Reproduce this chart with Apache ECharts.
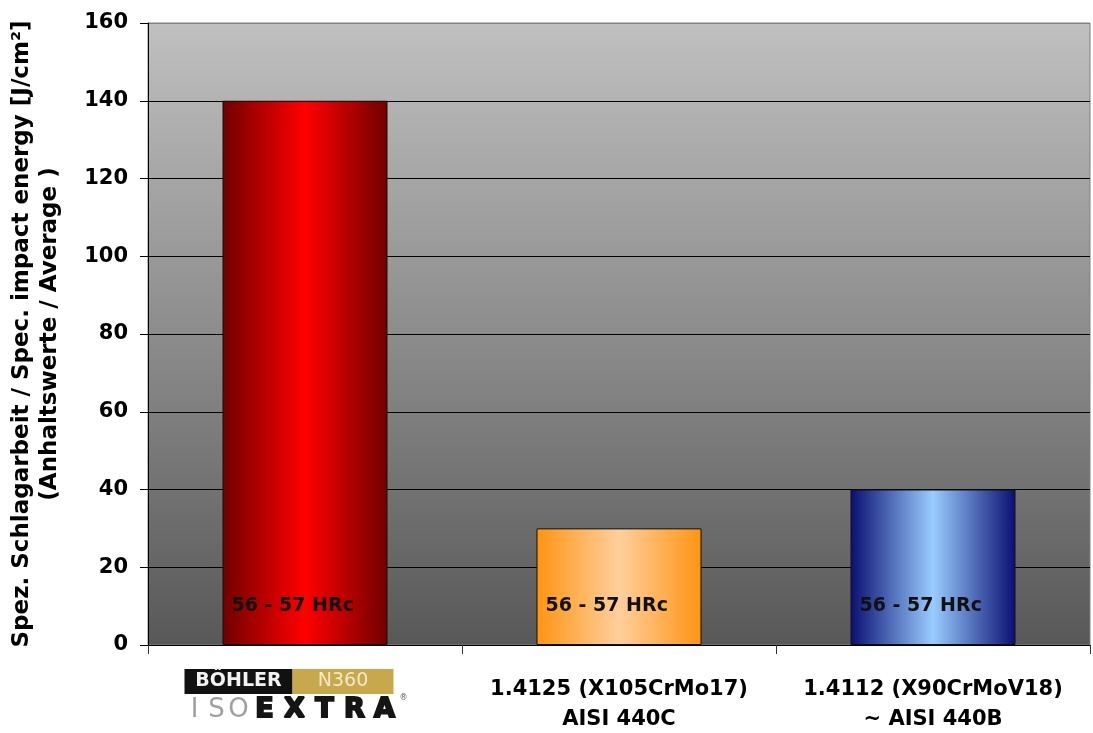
<!DOCTYPE html>
<html>
<head>
<meta charset="utf-8">
<script src="https://cdn.jsdelivr.net/npm/echarts@6/dist/echarts.min.js"></script>
<style>
  html, body { margin: 0; padding: 0; background: #fff; }
  #main { width: 1093px; height: 733px; }
</style>
</head>
<body>
<div id="main"></div>
<script>
// data
var categories = ['boehler', '1.4125 (X105CrMo17)\nAISI 440C', '1.4112 (X90CrMoV18)\n~ AISI 440B'];
var values = [140, 30, 40];
var hardness = ['56 - 57 HRc', '56 - 57 HRc', '56 - 57 HRc'];
var yTicks = [0, 20, 40, 60, 80, 100, 120, 140, 160];

var font = "'DejaVu Sans', sans-serif";

function hGrad(edge, mid) {
    return new echarts.graphic.LinearGradient(0, 0, 1, 0, [
        {offset: 0, color: edge},
        {offset: 0.5, color: mid},
        {offset: 1, color: edge}
    ]);
}

var barColors = [
    hGrad('#700000', '#ff0000'),
    hGrad('#ff9412', '#ffcf9c'),
    hGrad('#0a0f72', '#99ccff')
];

var chart = echarts.init(document.getElementById('main'));

var option = {
    animation: false,
    grid: {
        left: 148, right: 3, top: 23, height: 622,
        show: true,
        borderColor: '#808080',
        borderWidth: 1,
        backgroundColor: new echarts.graphic.LinearGradient(0, 0, 0, 1, [
            {offset: 0, color: '#c0c0c0'},
            {offset: 1, color: '#585858'}
        ])
    },
    xAxis: {
        type: 'category',
        data: categories,
        axisLine: {lineStyle: {color: '#000', width: 1}},
        axisTick: {show: true, length: 9, lineStyle: {color: '#333'}},
        axisLabel: {
            margin: 24,
            interval: 0,
            color: '#000',
            formatter: function (v, i) {
                if (i === 0) {
                    // logo drawn as text
                    return '{b|BÖHLER}{n|N360}{s1|}\n' +
                        '{i|I}{i|S}{i|O}{e|E}{e|X}{e|T}{e|R}{e|A}{r|®}{s2|}';
                }
                return '{p| }\n' + v.split('\n').map(function (s) { return '{t|' + s + '}'; }).join('\n');
            },
            rich: {
                p: {fontSize: 1, lineHeight: 6},
                t: {fontFamily: font, fontWeight: 'bold', fontSize: 21, lineHeight: 30, color: '#000'},
                b: {fontFamily: font, fontWeight: 'bold', fontSize: 19, color: '#f2f2f2',
                    backgroundColor: '#111', width: 108, height: 25, lineHeight: 25, align: 'center'},
                n: {fontFamily: font, fontSize: 19, color: '#f3e9c6',
                    backgroundColor: '#c8a84c', width: 101, height: 25, lineHeight: 25, align: 'center'},
                s1: {width: 32, height: 25},
                s2: {width: 19},
                i: {fontFamily: font, fontSize: 26, color: '#a0a0a0', width: 22, align: 'center', lineHeight: 32},
                e: {fontFamily: font, fontWeight: 'bold', fontSize: 27, color: '#151515', width: 30, align: 'center',
                    lineHeight: 32, textBorderColor: '#151515', textBorderWidth: 2},
                r: {fontFamily: font, fontSize: 8, color: '#555', verticalAlign: 'top', lineHeight: 32}
            }
        }
    },
    yAxis: {
        type: 'value',
        min: 0,
        max: 160,
        interval: 20,
        name: 'Spez. Schlagarbeit / Spec. impact energy [J/cm²]\n(Anhaltswerte / Average )',
        nameLocation: 'middle',
        nameRotate: 90,
        nameGap: 84,
        nameTextStyle: {
            fontFamily: font, fontWeight: 'bold', fontSize: 23, lineHeight: 28, color: '#000', align: 'center'
        },
        axisLine: {show: true, lineStyle: {color: '#000', width: 1}},
        axisTick: {show: true, length: 8, lineStyle: {color: '#000'}},
        axisLabel: {
            margin: 20,
            color: '#000',
            fontFamily: font,
            fontWeight: 'bold',
            fontSize: 21,
            formatter: function (v) { return yTicks.indexOf(v) >= 0 ? String(v) : ''; }
        },
        splitLine: {
            show: true,
            lineStyle: {
                color: ['#000', '#000', '#000', '#000', '#000', '#000', '#000', '#000', '#808080'],
                width: 1
            }
        }
    },
    series: [{
        type: 'bar',
        barWidth: 165,
        data: values.map(function (v, i) {
            return {
                value: v,
                itemStyle: {color: barColors[i], borderColor: '#111', borderWidth: 1},
                label: {formatter: hardness[i]}
            };
        }),
        label: {
            show: true,
            position: 'insideBottomLeft',
            distance: 5,
            offset: [4, -24],
            fontFamily: font,
            fontWeight: 'bold',
            fontSize: 19,
            color: '#111'
        }
    }]
};

chart.setOption(option);
</script>
</body>
</html>
